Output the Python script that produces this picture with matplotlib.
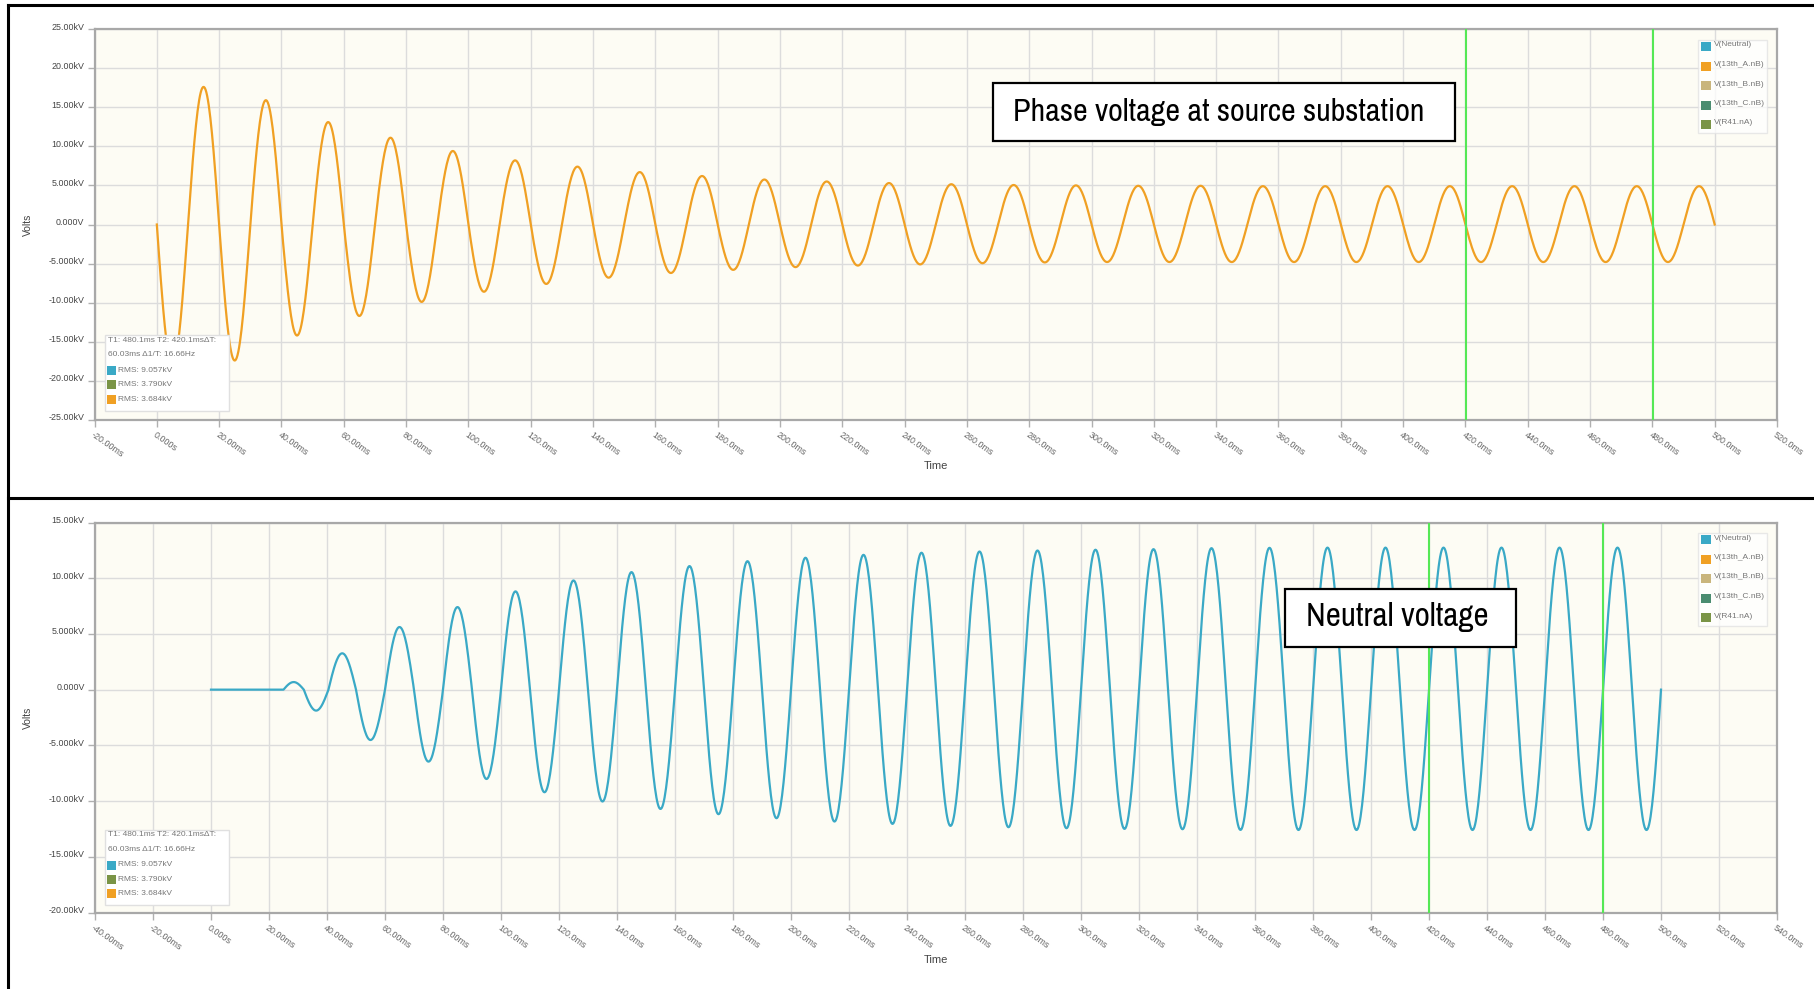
import numpy as np
import matplotlib
matplotlib.use('Agg')
import matplotlib.pyplot as plt
from matplotlib.patches import Rectangle
from matplotlib.lines import Line2D
from matplotlib.transforms import ScaledTranslation
from matplotlib import font_manager

# ---------------- data ----------------
# Phase voltage (kV): zero-crossing times (ms) and the peak of each half-cycle
phase_zero_ms = [0, 10, 20, 30, 40, 50, 60, 70, 80, 90, 100, 110, 120, 130, 140,
                 150, 160, 170, 180, 190, 200, 210, 220, 230, 240, 250, 260, 270,
                 280, 290, 300, 310, 320, 330, 340, 350, 360, 370, 380, 390, 400,
                 410, 420, 430, 440, 450, 460, 470, 480, 490, 500]
phase_peak_kv = [-18.0, 17.6, -17.4, 15.9, -14.2, 13.1, -11.7, 11.1, -9.9, 9.4,
                 -8.6, 8.2, -7.6, 7.4, -6.8, 6.7, -6.2, 6.2, -5.8, 5.75,
                 -5.45, 5.5, -5.25, 5.3, -5.1, 5.15, -4.95, 5.05, -4.85, 5.0,
                 -4.8, 4.95, -4.8, 4.95, -4.8, 4.9, -4.8, 4.9, -4.8, 4.9,
                 -4.8, 4.9, -4.8, 4.9, -4.8, 4.9, -4.8, 4.9, -4.8, 4.9]

# Neutral voltage (kV): flat until 25 ms, then half-cycles
neutral_flat_ms = [0, 25]
neutral_zero_ms = [25, 32, 40.5, 50, 60, 70, 80, 90, 100, 110, 120, 130, 140, 150,
                   160, 170, 180, 190, 200, 210, 220, 230, 240, 250, 260, 270, 280,
                   290, 300, 310, 320, 330, 340, 350, 360, 370, 380, 390, 400, 410,
                   420, 430, 440, 450, 460, 470, 480, 490, 500]
neutral_peak_kv = [0.68, -1.88, 3.26, -4.52, 5.62, -6.46, 7.41, -8.02, 8.82, -9.21,
                   9.80, -10.04, 10.55, -10.71, 11.09, -11.18, 11.53, -11.54, 11.84, -11.84,
                   12.10, -12.05, 12.29, -12.23, 12.40, -12.35, 12.49, -12.44, 12.56, -12.50,
                   12.61, -12.53, 12.70, -12.59, 12.73, -12.60, 12.75, -12.60, 12.75, -12.60,
                   12.75, -12.60, 12.75, -12.60, 12.75, -12.60, 12.75, -12.60]

cursor_ms = [420.1, 480.1]

top_xticks = [-20, 0, 20, 40, 60, 80, 100, 120, 140, 160, 180, 200, 220, 240, 260,
              280, 300, 320, 340, 360, 380, 400, 420, 440, 460, 480, 500, 520]
top_xlabels = ['-20.00ms', '0.000s', '20.00ms', '40.00ms', '60.00ms', '80.00ms',
               '100.0ms', '120.0ms', '140.0ms', '160.0ms', '180.0ms', '200.0ms',
               '220.0ms', '240.0ms', '260.0ms', '280.0ms', '300.0ms', '320.0ms',
               '340.0ms', '360.0ms', '380.0ms', '400.0ms', '420.0ms', '440.0ms',
               '460.0ms', '480.0ms', '500.0ms', '520.0ms']
top_yticks = [-25, -20, -15, -10, -5, 0, 5, 10, 15, 20, 25]
top_ylabels = ['-25.00kV', '-20.00kV', '-15.00kV', '-10.00kV', '-5.000kV', '0.000V',
               '5.000kV', '10.00kV', '15.00kV', '20.00kV', '25.00kV']

bot_xticks = [-40, -20] + top_xticks[1:] + [540]
bot_xlabels = ['-40.00ms', '-20.00ms'] + top_xlabels[1:] + ['540.0ms']
bot_yticks = [-20, -15, -10, -5, 0, 5, 10, 15]
bot_ylabels = ['-20.00kV', '-15.00kV', '-10.00kV', '-5.000kV', '0.000V',
               '5.000kV', '10.00kV', '15.00kV']

legend_names = ['V(Neutral)', 'V(13th_A.nB)', 'V(13th_B.nB)', 'V(13th_C.nB)', 'V(R41.nA)']
legend_colors = ['#3AA9C6', '#F0A023', '#C9B57C', '#4A8C70', '#7A9446']
stat_lines = ['T1: 480.1ms T2: 420.1ms\u0394T:', '60.03ms \u03941/T: 16.66Hz']
rms_labels = ['RMS: 9.057kV', 'RMS: 3.790kV', 'RMS: 3.684kV']
rms_colors = ['#3AA9C6', '#7A9446', '#F0A023']

PHASE_COLOR = '#F0A023'
NEUTRAL_COLOR = '#3AA9C6'

# ---------------- helpers ----------------
def half_cycles(zeros, peaks, n=40):
    ts, vs = [], []
    for k, p in enumerate(peaks):
        t = np.linspace(zeros[k], zeros[k + 1], n)
        ts.append(t)
        vs.append(p * np.sin(np.pi * (t - zeros[k]) / (zeros[k + 1] - zeros[k])))
    return np.concatenate(ts), np.concatenate(vs)

def find_narrow_family():
    best = None
    for f in font_manager.fontManager.ttflist:
        nm = f.name
        if ('Narrow' in nm or 'Condensed' in nm) and f.style == 'normal':
            w = f.weight if isinstance(f.weight, int) else 400
            if 350 <= w <= 500:
                if 'Liberation' in nm or 'Arial' in nm:
                    return nm
                if best is None:
                    best = nm
    return best

W, H, DPI = 1814, 989, 100
plt.rcParams['font.family'] = ['Liberation Sans', 'DejaVu Sans']
fig = plt.figure(figsize=(W / DPI, H / DPI), dpi=DPI)
fig.patch.set_facecolor('white')
renderer = fig.canvas.get_renderer()

NARROW = find_narrow_family()
NOTE_FAMILY = [NARROW, 'Liberation Sans'] if NARROW else ['Liberation Sans']

def fx(px):
    return px / W

def fy(py):
    return 1 - py / H

def style_axes(ax, xlim, ylim, xt, xl, yt, yl):
    ax.set_facecolor('#FDFCF4')
    ax.set_xlim(*xlim)
    ax.set_ylim(*ylim)
    ax.set_xticks(xt)
    ax.set_xticklabels(xl)
    ax.set_yticks(yt)
    ax.set_yticklabels(yl)
    ax.grid(True, color='#DCDCDC', lw=1.0, zorder=0)
    ax.set_axisbelow(True)
    for s in ax.spines.values():
        s.set_color('#A8A8A8')
        s.set_linewidth(1.6)
    ax.tick_params(axis='both', direction='out', length=5, width=1, color='#B0B0B0',
                   labelsize=6.4, labelcolor='#555555')
    ax.tick_params(axis='x', pad=2.5)
    ax.tick_params(axis='y', pad=2.5)
    for lab in ax.get_xticklabels():
        lab.set_rotation(-35)
        lab.set_ha('left')
        lab.set_va('top')
        lab.set_rotation_mode('anchor')
        lab.set_color('#666666')
    off = ScaledTranslation(0, 3 / DPI, fig.dpi_scale_trans)
    for lab in ax.get_yticklabels():
        lab.set_transform(lab.get_transform() + off)
        lab.set_color('#444444')
    for c in cursor_ms:
        ax.axvline(c, color='#55E855', lw=1.5, zorder=4)

def legend_box(top_px):
    x0, x1 = 1698, 1767
    fig.add_artist(Rectangle((fx(x0), fy(top_px + 93)), fx(x1) - fx(x0), 93 / H,
                             transform=fig.transFigure, facecolor='white', alpha=0.75,
                             edgecolor='#E2E2E2', lw=1, zorder=5))
    for i, (name, col) in enumerate(zip(legend_names, legend_colors)):
        yc = top_px + 6.5 + 19.5 * i
        fig.add_artist(Rectangle((fx(1700.5), fy(yc + 4.5)), 10 / W, 9 / H,
                                 transform=fig.transFigure, facecolor=col,
                                 edgecolor='none', zorder=6))
        fig.text(fx(1714), fy(yc - 1.5), name, fontsize=6, color='#777777',
                 ha='left', va='center', zorder=7)

def stat_box(top_px):
    x0, x1 = 105, 228.5
    h = 75.5
    fig.add_artist(Rectangle((fx(x0), fy(top_px + h)), fx(x1) - fx(x0), h / H,
                             transform=fig.transFigure, facecolor='white',
                             edgecolor='#E0E0E0', lw=1, zorder=5))
    for i, s in enumerate(stat_lines):
        fig.text(fx(108), fy(top_px + 5.5 + 14.5 * i), s, fontsize=6, color='#777777',
                 ha='left', va='center', zorder=7)
    for i, (s, col) in enumerate(zip(rms_labels, rms_colors)):
        yc = top_px + 35.5 + 14.3 * i
        fig.add_artist(Rectangle((fx(107.3), fy(yc + 4.5)), 9 / W, 9 / H,
                                 transform=fig.transFigure, facecolor=col,
                                 edgecolor='none', zorder=6))
        fig.text(fx(118.5), fy(yc), s, fontsize=6, color='#777777',
                 ha='left', va='center', zorder=7)

def note_box(x0, y0, x1, y1, tx, tbase, text, target_w):
    fig.add_artist(Rectangle((fx(x0), fy(y1)), fx(x1) - fx(x0), (y1 - y0) / H,
                             transform=fig.transFigure, facecolor='white',
                             edgecolor='black', lw=1.6, zorder=8))
    t = fig.text(fx(tx), fy(tbase), text, fontsize=23, color='black',
                 family=NOTE_FAMILY, ha='center', va='baseline', zorder=9)
    w = t.get_window_extent(renderer=renderer).width
    if w > 0:
        t.set_fontsize(min(23 * target_w / w, 24))

# ---------------- top panel: phase voltage ----------------
ax1 = fig.add_axes([fx(94.5), fy(420), fx(1777) - fx(94.5), (420 - 29) / H])
style_axes(ax1, (-20, 520), (-25, 25), top_xticks, top_xlabels, top_yticks, top_ylabels)
t1, v1 = half_cycles(phase_zero_ms, phase_peak_kv)
ax1.plot(t1, v1, color=PHASE_COLOR, lw=1.6, zorder=3)

# ---------------- bottom panel: neutral voltage ----------------
ax2 = fig.add_axes([fx(95), fy(912.5), fx(1777) - fx(95), (912.5 - 522.5) / H])
style_axes(ax2, (-40, 540), (-20, 15), bot_xticks, bot_xlabels, bot_yticks, bot_ylabels)
t2, v2 = half_cycles(neutral_zero_ms, neutral_peak_kv)
t2 = np.concatenate([neutral_flat_ms, t2])
v2 = np.concatenate([[0, 0], v2])
ax2.plot(t2, v2, color=NEUTRAL_COLOR, lw=1.6, zorder=3)

# axis titles
for yc in [(29 + 420) / 2, (522.5 + 912.5) / 2]:
    fig.text(fx(28), fy(yc), 'Volts', rotation=90, fontsize=7.5, color='#444444',
             ha='center', va='center')
fig.text(fx(936), fy(466.5), 'Time', fontsize=8, color='#444444', ha='center', va='center')
fig.text(fx(936), fy(960), 'Time', fontsize=8, color='#444444', ha='center', va='center')

# overlays
legend_box(40)
legend_box(533)
stat_box(335)
stat_box(829.5)
note_box(992.6, 83.3, 1455.3, 141, 1219, 121.5, 'Phase voltage at source substation', 412)
note_box(1285, 589, 1516, 646.7, 1397.4, 626.5, 'Neutral voltage', 183)

# outer frame lines
lw_frame = 2.2
fig.add_artist(Line2D([fx(7.5), 1], [fy(5), fy(5)], transform=fig.transFigure,
                      color='black', lw=lw_frame))
fig.add_artist(Line2D([fx(7.5), fx(7.5)], [fy(5), 0], transform=fig.transFigure,
                      color='black', lw=lw_frame))
fig.add_artist(Line2D([fx(7.5), 1], [fy(497.5), fy(497.5)], transform=fig.transFigure,
                      color='black', lw=lw_frame))

fig.savefig('out.png', dpi=DPI)
